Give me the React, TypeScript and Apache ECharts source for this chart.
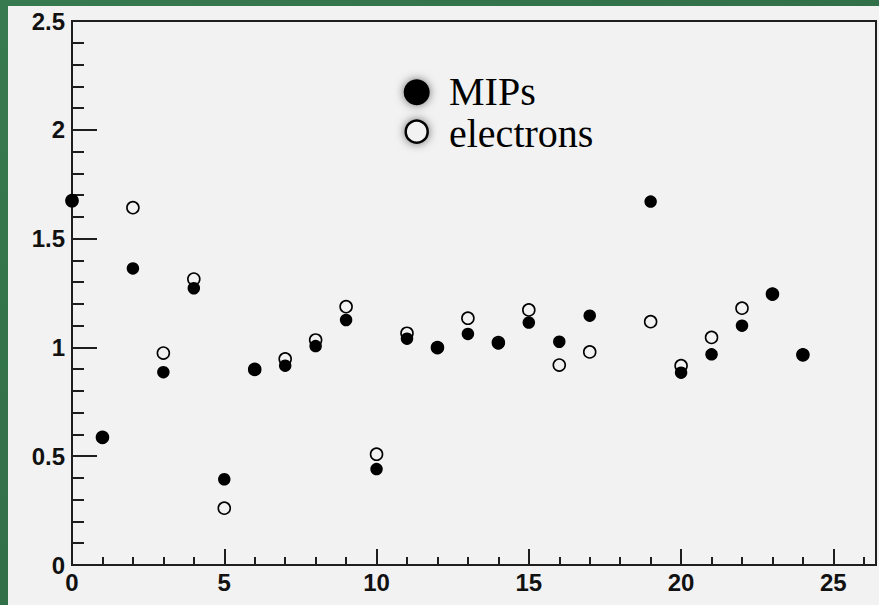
import React, { useEffect, useRef } from "react";
import * as echarts from "echarts";

// Run index (x) for each measured point; index 18 is absent
const runIndex = [0, 1, 2, 3, 4, 5, 6, 7, 8, 9, 10, 11, 12, 13, 14, 15, 16, 17, 19, 20, 21, 22, 23, 24];
const mipsValues = [
  1.674, 0.587, 1.363, 0.886, 1.272, 0.394, 0.899, 0.916, 1.006, 1.126, 0.441, 1.04,
  0.999, 1.062, 1.019, 1.114, 1.026, 1.146, 1.67, 0.884, 0.968, 1.1, 1.245, 0.966,
];
const electronValues = [
  1.674, 0.587, 1.642, 0.974, 1.314, 0.261, 0.899, 0.947, 1.034, 1.187, 0.509, 1.065,
  0.999, 1.134, 1.022, 1.172, 0.919, 0.979, 1.118, 0.916, 1.046, 1.18, 1.245, 0.966,
];
const seriesNames = ["MIPs", "electrons"];
const xMin = 0;
const xMax = 26.4;
const yMin = 0;
const yMax = 2.5;

const AXIS_FONT = "'Liberation Sans', Arial, Helvetica, sans-serif";
const LEGEND_FONT = "'Liberation Serif', 'Times New Roman', serif";
const INK = "#1e1e1e";

export default function App() {
  const ref = useRef<HTMLDivElement>(null);
  useEffect(() => {
    if (!ref.current) return;
    const chart = echarts.init(ref.current, undefined, { renderer: "svg" });
    const mipsData = runIndex.map((x, i) => [x, mipsValues[i]]);
    const elecData = runIndex.map((x, i) => [x, electronValues[i]]);
    const labelStyle = {
      fontFamily: AXIS_FONT,
      fontWeight: "bold" as const,
      fontSize: 24,
      color: "#111",
    };
    chart.setOption({
      animation: false,
      backgroundColor: {
        type: "linear",
        x: 0,
        y: 0,
        x2: 1,
        y2: 1,
        colorStops: [
          { offset: 0, color: "#387a4f" },
          { offset: 1, color: "#2a6542" },
        ],
      },
      grid: {
        left: 72,
        right: 3,
        top: 21,
        bottom: 40,
        show: true,
        borderColor: INK,
        borderWidth: 2,
        backgroundColor: "transparent",
        outerBoundsMode: "none",
        containLabel: false,
      },
      graphic: [
        {
          type: "rect",
          z: -10,
          silent: true,
          shape: { x: 8, y: 6, width: 871, height: 599 },
          style: { fill: "#f2f2f2" },
        },
        {
          type: "circle",
          z: 100,
          shape: { cx: 416.7, cy: 92.3, r: 13 },
          style: { fill: "#000", shadowBlur: 10, shadowColor: "rgba(0,0,0,0.55)" },
        },
        {
          type: "circle",
          z: 100,
          shape: { cx: 416.7, cy: 131.7, r: 11 },
          style: {
            fill: "#f2f2f2",
            stroke: "#000",
            lineWidth: 2.5,
            shadowBlur: 10,
            shadowColor: "rgba(0,0,0,0.55)",
          },
        },
        {
          type: "text",
          z: 100,
          style: {
            text: seriesNames[0],
            x: 449,
            y: 91,
            fontFamily: LEGEND_FONT,
            fontSize: 40,
            fill: "#000",
            verticalAlign: "middle",
          },
        },
        {
          type: "text",
          z: 100,
          style: {
            text: seriesNames[1],
            x: 449,
            y: 133,
            fontFamily: LEGEND_FONT,
            fontSize: 40,
            fill: "#000",
            verticalAlign: "middle",
          },
        },
      ],
      xAxis: [
        {
          type: "value",
          min: xMin,
          max: xMax,
          interval: 5,
          position: "bottom",
          axisLine: { show: true, onZero: false, lineStyle: { color: INK, width: 2 } },
          axisTick: { show: true, inside: true, length: 16, lineStyle: { color: INK, width: 2 } },
          axisLabel: {
            ...labelStyle,
            margin: 5,
            showMaxLabel: false,
            formatter: (v: number) => (Math.abs(v % 5) < 1e-9 ? String(v) : ""),
          },
          splitLine: { show: false },
        },
        {
          type: "value",
          min: xMin,
          max: xMax,
          interval: 1,
          position: "bottom",
          axisLine: { show: false },
          axisTick: { show: true, inside: true, length: 8, lineStyle: { color: INK, width: 2 } },
          axisLabel: { show: false },
          splitLine: { show: false },
        },
      ],
      yAxis: {
        type: "value",
        min: yMin,
        max: yMax,
        interval: 0.5,
        axisLine: { show: true, onZero: false, lineStyle: { color: INK, width: 2 } },
        axisTick: { show: true, inside: true, length: 25, lineStyle: { color: INK, width: 2 } },
        minorTick: { show: true, splitNumber: 5, length: 12, lineStyle: { color: INK, width: 2 } },
        axisLabel: { ...labelStyle, margin: 7, formatter: (v: number) => String(v) },
        splitLine: { show: false },
        minorSplitLine: { show: false },
      },
      series: [
        {
          name: seriesNames[1],
          type: "scatter",
          xAxisIndex: 0,
          data: elecData,
          symbol: "circle",
          symbolSize: 12,
          itemStyle: { color: "#f2f2f2", borderColor: "#000", borderWidth: 1.6, opacity: 1 },
          emphasis: { disabled: true },
          z: 3,
        },
        {
          name: seriesNames[0],
          type: "scatter",
          xAxisIndex: 0,
          data: mipsData,
          symbol: "circle",
          symbolSize: 12.5,
          itemStyle: { color: "#000", opacity: 1 },
          emphasis: { disabled: true },
          z: 4,
        },
      ],
    });
    return () => chart.dispose();
  }, []);
  return (
    <div
      ref={ref}
      style={{ position: "fixed", left: 0, top: 0, width: 879, height: 605 }}
    />
  );
}
